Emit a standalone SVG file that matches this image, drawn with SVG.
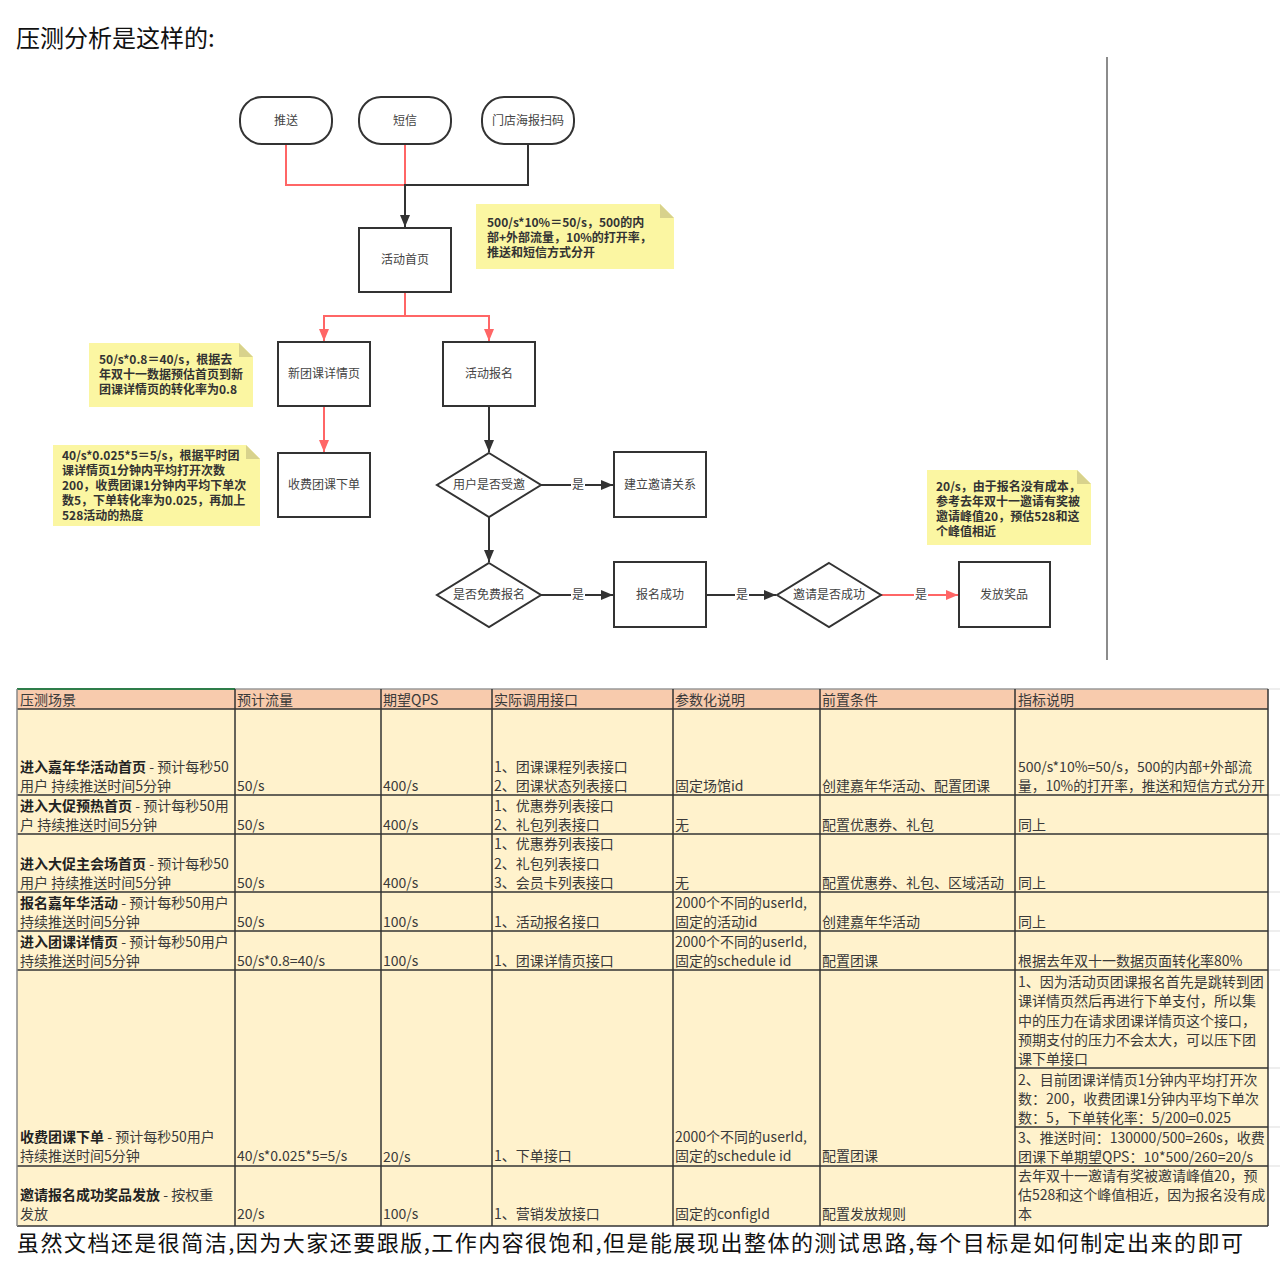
<svg xmlns="http://www.w3.org/2000/svg" width="1280" height="1266" viewBox="0 0 1280 1266">
<defs>
<style>
.t{font-family:"Noto Sans CJK SC","Noto Sans",sans-serif}
.node{fill:#fff;stroke:#333;stroke-width:2}
.nl{font-family:"Noto Sans CJK SC","Noto Sans",sans-serif;font-size:12px;fill:#444;text-anchor:middle}
.note{fill:#FBF6A2}
.fold{fill:#D8D28C}
.nt{font-family:"Noto Sans CJK SC","Noto Sans",sans-serif;font-size:12px;font-weight:bold;fill:#333}
.red{fill:none;stroke:#FF6666;stroke-width:2}
.blk{fill:none;stroke:#333;stroke-width:2}
.lbl{font-family:"Noto Sans CJK SC","Noto Sans",sans-serif;font-size:12px;fill:#444;text-anchor:middle}
.lb{fill:#fff}
.hd{fill:#F8CBAD}
.bd{fill:#FFF2CC}
.gl{stroke:#333;stroke-width:1.5}
.tc{font-family:"Noto Sans CJK SC","Noto Sans",sans-serif;font-size:14px;fill:#3a3a3a}
.b{font-weight:bold;fill:#222}
</style>
<marker id="ab" viewBox="0 0 12 10" markerWidth="12" markerHeight="10" refX="12" refY="5" orient="auto" markerUnits="userSpaceOnUse"><path d="M0,0 L12,5 L0,10 z" fill="#333"/></marker>
<marker id="ar" viewBox="0 0 12 10" markerWidth="12" markerHeight="10" refX="12" refY="5" orient="auto" markerUnits="userSpaceOnUse"><path d="M0,0 L12,5 L0,10 z" fill="#FF6666"/></marker>
</defs>
<rect width="1280" height="1266" fill="#fff"/>
<text class="t" x="16" y="47" font-size="24" fill="#111">压测分析是这样的:</text>

<line x1="1107" y1="57" x2="1107" y2="660" stroke="#666" stroke-width="1.5"/>

<g id="connectors">
<path class="red" d="M286 144 V185 H405"/>
<path class="red" d="M405 144 V185"/>
<path class="blk" d="M528 144 V185 H405 V227" marker-end="url(#ab)"/>
<path class="red" d="M405 292 V316 H324 V341" marker-end="url(#ar)"/>
<path class="red" d="M405 316 H489 V341" marker-end="url(#ar)"/>
<path class="red" d="M324 406 V452" marker-end="url(#ar)"/>
<path class="blk" d="M489 406 V452" marker-end="url(#ab)"/>
<path class="blk" d="M541 485 H613" marker-end="url(#ab)"/>
<path class="blk" d="M489 517 V562" marker-end="url(#ab)"/>
<path class="blk" d="M541 595 H613" marker-end="url(#ab)"/>
<path class="blk" d="M706 595 H776" marker-end="url(#ab)"/>
<path class="red" d="M881 595 H958" marker-end="url(#ar)"/>
<rect class="lb" x="571" y="478" width="14" height="14"/><text class="lbl" x="578" y="489">是</text>
<rect class="lb" x="571" y="588" width="14" height="14"/><text class="lbl" x="578" y="599">是</text>
<rect class="lb" x="735" y="588" width="14" height="14"/><text class="lbl" x="742" y="599">是</text>
<rect class="lb" x="914" y="588" width="14" height="14"/><text class="lbl" x="921" y="599">是</text>
</g>

<g id="n_push"><rect class="node" x="240" y="97" width="92" height="47" rx="22"/><text class="nl" x="286" y="125">推送</text></g>
<g id="n_sms"><rect class="node" x="359" y="97" width="92" height="47" rx="22"/><text class="nl" x="405" y="125">短信</text></g>
<g id="n_store"><rect class="node" x="482" y="97" width="92" height="47" rx="22"/><text class="nl" x="528" y="125">门店海报扫码</text></g>
<g id="n_home"><rect class="node" x="359" y="228" width="92" height="64"/><text class="nl" x="405" y="264">活动首页</text></g>
<g id="n_detail"><rect class="node" x="278" y="342" width="92" height="64"/><text class="nl" x="324" y="378">新团课详情页</text></g>
<g id="n_signup"><rect class="node" x="443" y="342" width="92" height="64"/><text class="nl" x="489" y="378">活动报名</text></g>
<g id="n_order"><rect class="node" x="278" y="453" width="92" height="64"/><text class="nl" x="324" y="489">收费团课下单</text></g>
<g id="d_invited"><polygon class="node" points="489,453 541,485 489,517 437,485"/><text class="nl" x="489" y="489">用户是否受邀</text></g>
<g id="n_relation"><rect class="node" x="614" y="452" width="92" height="65"/><text class="nl" x="660" y="489">建立邀请关系</text></g>
<g id="d_free"><polygon class="node" points="489,563 541,595 489,627 437,595"/><text class="nl" x="489" y="599">是否免费报名</text></g>
<g id="n_success"><rect class="node" x="614" y="562" width="92" height="65"/><text class="nl" x="660" y="599">报名成功</text></g>
<g id="d_invsucc"><polygon class="node" points="829,563 881,595 829,627 777,595"/><text class="nl" x="829" y="599">邀请是否成功</text></g>
<g id="n_prize"><rect class="node" x="959" y="562" width="91" height="65"/><text class="nl" x="1004" y="599">发放奖品</text></g>

<g id="note1"><path class="note" d="M476 204 H660 L674 218 V269 H476 Z"/><path class="fold" d="M660 204 L674 218 H660 Z"/>
<text class="nt" x="487" y="227">500/s*10%＝50/s，500的内</text><text class="nt" x="487" y="242">部+外部流量，10%的打开率，</text><text class="nt" x="487" y="257">推送和短信方式分开</text></g>
<g id="note2"><path class="note" d="M89 343 H239 L253 357 V407 H89 Z"/><path class="fold" d="M239 343 L253 357 H239 Z"/>
<text class="nt" x="99" y="364">50/s*0.8＝40/s，根据去</text><text class="nt" x="99" y="379">年双十一数据预估首页到新</text><text class="nt" x="99" y="394">团课详情页的转化率为0.8</text></g>
<g id="note3"><path class="note" d="M53 445 H246 L260 459 V526 H53 Z"/><path class="fold" d="M246 445 L260 459 H246 Z"/>
<text class="nt" x="62" y="460">40/s*0.025*5＝5/s，根据平时团</text><text class="nt" x="62" y="475">课详情页1分钟内平均打开次数</text><text class="nt" x="62" y="490">200，收费团课1分钟内平均下单次</text><text class="nt" x="62" y="505">数5，下单转化率为0.025，再加上</text><text class="nt" x="62" y="520">528活动的热度</text></g>
<g id="note4"><path class="note" d="M927 470 H1077 L1091 484 V545 H927 Z"/><path class="fold" d="M1077 470 L1091 484 H1077 Z"/>
<text class="nt" x="936" y="491">20/s，由于报名没有成本，</text><text class="nt" x="936" y="506">参考去年双十一邀请有奖被</text><text class="nt" x="936" y="521">邀请峰值20，预估528和这</text><text class="nt" x="936" y="536">个峰值相近</text></g>

<g id="table">
<rect class="hd" x="17" y="689" width="1251" height="20"/>
<rect class="bd" x="17" y="709" width="1251" height="517"/>
<g stroke="#ddd" stroke-width="1"><line x1="1268" y1="689" x2="1280" y2="689"/><line x1="1268" y1="795" x2="1280" y2="795"/><line x1="1268" y1="834" x2="1280" y2="834"/><line x1="1268" y1="892" x2="1280" y2="892"/><line x1="1268" y1="931" x2="1280" y2="931"/><line x1="1268" y1="970" x2="1280" y2="970"/><line x1="1268" y1="1068" x2="1280" y2="1068"/><line x1="1268" y1="1127" x2="1280" y2="1127"/><line x1="1268" y1="1166" x2="1280" y2="1166"/></g>
<line x1="235" y1="689" x2="1268" y2="689" stroke="#999" stroke-width="1.5"/>
<line x1="17" y1="689" x2="235" y2="689" stroke="#2E7D4A" stroke-width="2"/>
<g class="gl">
<line x1="17" y1="709" x2="1268" y2="709"/>
<line x1="17" y1="795" x2="1268" y2="795"/>
<line x1="17" y1="834" x2="1268" y2="834"/>
<line x1="17" y1="892" x2="1268" y2="892"/>
<line x1="17" y1="931" x2="1268" y2="931"/>
<line x1="17" y1="970" x2="1268" y2="970"/>
<line x1="1015" y1="1068" x2="1268" y2="1068"/>
<line x1="1015" y1="1127" x2="1268" y2="1127"/>
<line x1="17" y1="1166" x2="1268" y2="1166"/>
<line x1="17" y1="1226" x2="1268" y2="1226"/>
<line x1="235" y1="689" x2="235" y2="1226"/>
<line x1="381" y1="689" x2="381" y2="1226"/>
<line x1="492" y1="689" x2="492" y2="1226"/>
<line x1="673" y1="689" x2="673" y2="1226"/>
<line x1="820" y1="689" x2="820" y2="1226"/>
<line x1="1015" y1="689" x2="1015" y2="1226"/>
<line x1="1268" y1="689" x2="1268" y2="1226"/>
</g>
<line x1="17" y1="689" x2="17" y2="1226" stroke="#888" stroke-width="1.5"/>

<g class="tc">
<text x="20" y="705">压测场景</text><text x="237" y="705">预计流量</text><text x="383" y="705">期望QPS</text><text x="494" y="705">实际调用接口</text><text x="675" y="705">参数化说明</text><text x="822" y="705">前置条件</text><text x="1018" y="705">指标说明</text>

<text x="20" y="772"><tspan class="b">进入嘉年华活动首页</tspan> - 预计每秒50</text><text x="20" y="791">用户 持续推送时间5分钟</text>
<text x="237" y="791">50/s</text><text x="383" y="791">400/s</text>
<text x="494" y="772">1、团课课程列表接口</text><text x="494" y="791">2、团课状态列表接口</text>
<text x="675" y="791">固定场馆id</text><text x="822" y="791">创建嘉年华活动、配置团课</text>
<text x="1018" y="772">500/s*10%=50/s，500的内部+外部流</text><text x="1018" y="791" textLength="247" lengthAdjust="spacingAndGlyphs">量，10%的打开率，推送和短信方式分开</text>

<text x="20" y="811"><tspan class="b">进入大促预热首页</tspan> - 预计每秒50用</text><text x="20" y="830">户 持续推送时间5分钟</text>
<text x="237" y="830">50/s</text><text x="383" y="830">400/s</text>
<text x="494" y="811">1、优惠券列表接口</text><text x="494" y="830">2、礼包列表接口</text>
<text x="675" y="830">无</text><text x="822" y="830">配置优惠券、礼包</text><text x="1018" y="830">同上</text>

<text x="20" y="869"><tspan class="b">进入大促主会场首页</tspan> - 预计每秒50</text><text x="20" y="888">用户 持续推送时间5分钟</text>
<text x="237" y="888">50/s</text><text x="383" y="888">400/s</text>
<text x="494" y="849">1、优惠券列表接口</text><text x="494" y="869">2、礼包列表接口</text><text x="494" y="888">3、会员卡列表接口</text>
<text x="675" y="888">无</text><text x="822" y="888">配置优惠券、礼包、区域活动</text><text x="1018" y="888">同上</text>

<text x="20" y="908"><tspan class="b">报名嘉年华活动</tspan> - 预计每秒50用户</text><text x="20" y="927">持续推送时间5分钟</text>
<text x="237" y="927">50/s</text><text x="383" y="927">100/s</text>
<text x="494" y="927">1、活动报名接口</text>
<text x="675" y="908">2000个不同的userId,</text><text x="675" y="927">固定的活动id</text>
<text x="822" y="927">创建嘉年华活动</text><text x="1018" y="927">同上</text>

<text x="20" y="947"><tspan class="b">进入团课详情页</tspan> - 预计每秒50用户</text><text x="20" y="966">持续推送时间5分钟</text>
<text x="237" y="966">50/s*0.8=40/s</text><text x="383" y="966">100/s</text>
<text x="494" y="966">1、团课详情页接口</text>
<text x="675" y="947">2000个不同的userId,</text><text x="675" y="966">固定的schedule id</text>
<text x="822" y="966">配置团课</text><text x="1018" y="966">根据去年双十一数据页面转化率80%</text>

<text x="20" y="1142"><tspan class="b">收费团课下单</tspan> - 预计每秒50用户</text><text x="20" y="1161">持续推送时间5分钟</text>
<text x="237" y="1161">40/s*0.025*5=5/s</text><text x="383" y="1162">20/s</text>
<text x="494" y="1161">1、下单接口</text>
<text x="675" y="1142">2000个不同的userId,</text><text x="675" y="1161">固定的schedule id</text>
<text x="822" y="1161">配置团课</text>
<text x="1018" y="987">1、因为活动页团课报名首先是跳转到团</text><text x="1018" y="1006">课详情页然后再进行下单支付，所以集</text><text x="1018" y="1026">中的压力在请求团课详情页这个接口，</text><text x="1018" y="1045">预期支付的压力不会太大，可以压下团</text><text x="1018" y="1064">课下单接口</text>
<text x="1018" y="1085">2、目前团课详情页1分钟内平均打开次</text><text x="1018" y="1104">数：200，收费团课1分钟内平均下单次</text><text x="1018" y="1123">数：5，下单转化率：5/200=0.025</text>
<text x="1018" y="1143">3、推送时间：130000/500=260s，收费</text><text x="1018" y="1162">团课下单期望QPS：10*500/260=20/s</text>

<text x="20" y="1200"><tspan class="b">邀请报名成功奖品发放</tspan> - 按权重</text><text x="20" y="1219">发放</text>
<text x="237" y="1219">20/s</text><text x="383" y="1219">100/s</text>
<text x="494" y="1219">1、营销发放接口</text><text x="675" y="1219">固定的configId</text>
<text x="822" y="1219">配置发放规则</text>
<text x="1018" y="1181">去年双十一邀请有奖被邀请峰值20，预</text><text x="1018" y="1200">估528和这个峰值相近，因为报名没有成</text><text x="1018" y="1219">本</text>
</g>
</g>

<text class="t" x="17" y="1251" font-size="22" fill="#111" textLength="1226" lengthAdjust="spacing">虽然文档还是很简洁,因为大家还要跟版,工作内容很饱和,但是能展现出整体的测试思路,每个目标是如何制定出来的即可</text>
</svg>
